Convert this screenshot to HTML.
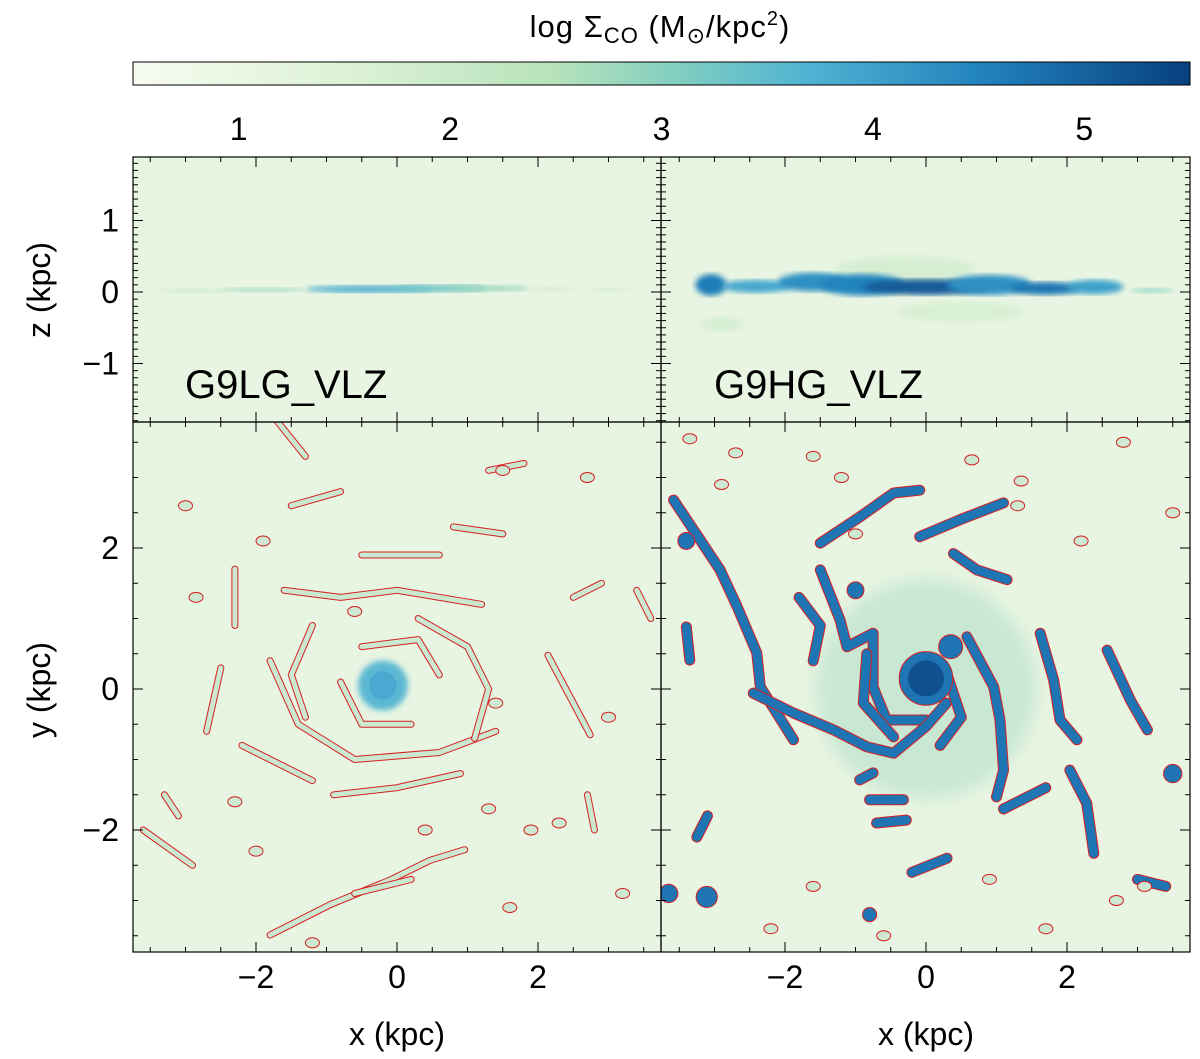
<!DOCTYPE html>
<html><head><meta charset="utf-8"><style>
html,body{margin:0;padding:0;background:#fff;}
svg{display:block;font-family:"Liberation Sans",sans-serif;}
</style></head><body>
<svg id="fig" width="1200" height="1059" viewBox="0 0 1200 1059" xmlns="http://www.w3.org/2000/svg">
<defs>
<linearGradient id="cbgrad" x1="0" x2="1" y1="0" y2="0">
<stop offset="0" stop-color="#f7fcf0"/>
<stop offset="0.2" stop-color="#ddf2d6"/>
<stop offset="0.4" stop-color="#b6e2bb"/>
<stop offset="0.52" stop-color="#7fcdc0"/>
<stop offset="0.64" stop-color="#4fb3d3"/>
<stop offset="0.8" stop-color="#2284bd"/>
<stop offset="1" stop-color="#084081"/>
</linearGradient>
<filter id="blur1"><feGaussianBlur stdDeviation="1.2"/></filter>
<filter id="blur3"><feGaussianBlur stdDeviation="3"/></filter>
<filter id="blur8"><feGaussianBlur stdDeviation="8"/></filter>
</defs>
<text x="660" y="37" font-size="31" text-anchor="middle" letter-spacing="1">log Σ<tspan font-size="22" dy="6">CO</tspan><tspan dy="-6"> (M</tspan><tspan font-size="22" dy="6">⊙</tspan><tspan dy="-6">/kpc</tspan><tspan font-size="20" dy="-12">2</tspan><tspan dy="12">)</tspan></text>
<rect x="133" y="62" width="1057" height="23" fill="url(#cbgrad)" stroke="#000" stroke-width="1"/>
<g id="cbticks"></g>
<g id="panels"></g>
</svg>
<script>
const cbTicks=[1,2,3,4,5];
const cbMin=0.5, cbMax=5.5;
const zTicks=[1,0,-1];
const yTicks=[2,0,-2];
const xTicks=[-2,0,2];
// edge-on disc data (x kpc, z kpc, half-width kpc, half-thickness kpc, level)
const edgeLG=[[-2.9,0.02,0.5,0.03,2.4],[-1.9,0.03,0.6,0.03,2.8],[-0.4,0.04,0.9,0.05,3.8],[0.6,0.05,0.7,0.05,3.3],[1.3,0.05,0.6,0.04,2.8],[2.2,0.04,0.3,0.02,2.2],[3.0,0.03,0.3,0.02,2.2]];
const edgeHG=[[-0.3,0.32,1.0,0.18,2.0],[0.5,-0.28,0.9,0.14,1.9],[-2.9,-0.45,0.3,0.1,2.0],[-3.05,0.1,0.22,0.15,4.6],[-2.4,0.08,0.5,0.09,3.9],[-1.6,0.14,0.5,0.13,4.3],[-0.9,0.1,0.6,0.15,4.5],[0,0.07,0.9,0.11,5.1],[0.9,0.1,0.6,0.14,4.3],[1.7,0.05,0.5,0.09,4.7],[2.4,0.07,0.4,0.1,4.0],[3.2,0.02,0.3,0.03,3]];
const armsHG=[
[[-3.58,2.68],[-3.30,2.26],[-2.92,1.69],[-2.68,1.17],[-2.40,0.51],[-2.35,0.03],[-1.88,-0.72]],
[[-1.50,2.07],[-0.94,2.44],[-0.46,2.78],[-0.09,2.82]],
[[-0.09,2.16],[0.48,2.40],[1.10,2.64]],
[[0.39,1.92],[0.72,1.69],[1.15,1.55]],
[[-1.50,1.69],[-1.22,0.98],[-1.12,0.60],[-0.75,0.79],[-0.75,0.03],[-0.56,-0.44],[0,-0.44]],
[[-2.45,-0.06],[-1.88,-0.34],[-1.31,-0.58],[-0.84,-0.82],[-0.46,-0.91],[0,-0.53],[0.29,-0.2]],
[[0.58,0.74],[0.96,0.03],[1.05,-0.44],[1.10,-1.15],[1.0,-1.53]],
[[-0.84,0.5],[-0.89,-0.2],[-0.46,-0.68]],
[[-0.94,-1.29],[-0.75,-1.19]],[[-0.8,-1.57],[-0.32,-1.57]],[[-0.70,-1.90],[-0.28,-1.86]],
[[1.62,0.79],[1.81,0.13],[1.90,-0.44],[2.14,-0.72]],
[[2.57,0.55],[2.90,-0.16],[3.14,-0.58]],
[[2.04,-1.15],[2.28,-1.62],[2.38,-2.33]],
[[-3.4,0.88],[-3.35,0.41]],[[-3.1,-1.8],[-3.25,-2.1]],
[[-1.8,1.3],[-1.5,0.9],[-1.6,0.4]],[[0.3,0.2],[0.5,-0.4],[0.2,-0.8]],
[[-0.2,-2.6],[0.3,-2.4]],[[1.7,-1.4],[1.1,-1.7]],[[3.0,-2.7],[3.4,-2.8]]
];
const blobsHG=[[0,0.15,0.38],[-3.11,-2.95,0.15],[-3.65,-2.9,0.13],[-0.8,-3.2,0.1],[-3.4,2.1,0.12],[3.5,-1.2,0.13],[-1.0,1.4,0.12],[0.35,0.6,0.17]];
const ringsHG=[[-3.35,3.55],[-2.7,3.35],[-2.9,2.9],[-1.6,3.3],[-1.2,3.0],[-1.0,2.2],[0.65,3.25],[1.35,2.95],[2.8,3.5],[3.5,2.5],[2.2,2.1],[1.3,2.6],[2.7,-3.0],[1.7,-3.4],[-1.6,-2.8],[-0.6,-3.5],[-2.2,-3.4],[0.9,-2.7],[3.1,-2.8]];
const armsLG=[
[[-1.6,1.4],[-0.8,1.3],[0,1.4],[1.2,1.2]],
[[-1.8,0.4],[-1.4,-0.5],[-0.6,-1.0],[0.6,-0.9],[1.4,-0.6]],
[[0.3,1.0],[1.0,0.6],[1.3,0],[1.1,-0.7]],
[[-1.2,0.9],[-1.5,0.2],[-1.3,-0.4]],
[[-0.9,-1.5],[0,-1.4],[0.9,-1.2]],
[[-2.5,0.3],[-2.7,-0.6]],[[-2.2,-0.8],[-1.2,-1.3]],
[[-1.5,2.6],[-0.8,2.8]],[[-1.3,3.3],[-1.7,3.8]],[[0.8,2.3],[1.5,2.2]],[[1.3,3.1],[1.8,3.2]],[[-0.5,1.9],[0.6,1.9]],
[[-0.5,0.6],[0.3,0.7],[0.6,0.2]],[[-0.8,0.1],[-0.5,-0.5],[0.2,-0.5]],
[[2.14,0.48],[2.74,-0.65]],[[-1.80,-3.49],[-0.95,-3.06],[-0.10,-2.71],[0.47,-2.43],[0.96,-2.28]],
[[-3.6,-2.0],[-2.9,-2.5]],[[-2.3,1.7],[-2.3,0.9]],[[-3.1,-1.8],[-3.3,-1.5]],[[2.7,-1.5],[2.8,-2.0]],[[-0.6,-2.9],[0.2,-2.7]],[[2.5,1.3],[2.9,1.5]],[[3.4,1.4],[3.6,1.0]]
];
const ringsLG=[[-2.85,1.3],[-3.0,2.6],[-1.9,2.1],[1.5,3.1],[2.7,3.0],[-0.6,1.1],[-2.3,-1.6],[1.4,-0.2],[0.4,-2.0],[1.9,-2.0],[2.3,-1.9],[3.0,-0.4],[1.3,-1.7],[-1.2,-3.6],[1.6,-3.1],[-2.0,-2.3],[3.2,-2.9]];
const svg=document.getElementById('fig');
const NS='http://www.w3.org/2000/svg';
function mk(tag,attrs,parent){const e=document.createElementNS(NS,tag);for(const k in attrs)e.setAttribute(k,attrs[k]);parent.appendChild(e);return e;}
function col(v){const s=[[0.5,[247,252,240]],[1.5,[221,242,214]],[2.5,[182,226,187]],[3.1,[127,205,192]],[3.7,[79,179,211]],[4.5,[34,132,189]],[5.5,[8,64,129]]];for(let i=1;i<s.length;i++){if(v<=s[i][0]){const t=(v-s[i-1][0])/(s[i][0]-s[i-1][0]);const a=s[i-1][1],b=s[i][1];return 'rgb('+a.map((c,j)=>Math.round(c+(b[j]-c)*t)).join(',')+')';}}return 'rgb(8,64,129)';}
const cbX=v=>133+(v-cbMin)/(cbMax-cbMin)*1057;
const cbg=document.getElementById('cbticks');
cbTicks.forEach(v=>{const t=mk('text',{x:cbX(v),y:140,'font-size':32,'text-anchor':'middle'},cbg);t.textContent=v;

});
const BG='#e8f5e2';
const pg=document.getElementById('panels');
const K=70.5;
function panel(x0,y0,w,h,cx,cy,kz,name){const g=mk('g',{},pg);


mk('rect',{x:x0,y:y0,width:w,height:h,fill:BG},g);
const cp='cp'+name;const c=mk('clipPath',{id:cp},g);mk('rect',{x:x0,y:y0,width:w,height:h},c);
const inner=mk('g',{'clip-path':'url(#'+cp+')'},g);
return {g,inner,X:v=>cx+v*K,Y:v=>cy-v*kz};}
function line(pts,P){return pts.map(p=>P.X(p[0]).toFixed(1)+','+P.Y(p[1]).toFixed(1)).join(' ');}
function edge(P,data){data.forEach(d=>{const e=mk('ellipse',{cx:P.X(d[0]),cy:P.Y(d[1]),rx:d[2]*K,ry:Math.max(2,d[3]*71.5),fill:col(d[4]),filter:'url(#blur3)',opacity:d[4]<2.5?0.6:1},P.inner);

});}
function faceon(P,arms,w,blue,blobs,rings){
arms.forEach(a=>{const l=mk('polyline',{points:line(a,P),fill:'none',stroke:'#d62020','stroke-width':w+2,'stroke-linejoin':'round','stroke-linecap':'round'},P.inner);


const l2=mk('polyline',{points:line(a,P),fill:'none',stroke:blue,'stroke-width':w,'stroke-linejoin':'round','stroke-linecap':'round'},P.inner);

});
blobs.forEach(b=>{const c=mk('circle',{cx:P.X(b[0]),cy:P.Y(b[1]),r:b[2]*K,fill:blue,stroke:'#d62020','stroke-width':1},P.inner);

});
rings.forEach(r=>{const c=mk('ellipse',{cx:P.X(r[0]),cy:P.Y(r[1]),rx:7,ry:5,fill:'#cde9d3',stroke:'#d62020','stroke-width':1},P.inner);

});}
function ticksY(P,x0,x1,ticks,minorStep,lo,hi,labels){for(let v=Math.ceil(lo/minorStep)*minorStep;v<=hi+1e-9;v+=minorStep){const y=P.Y(v);const maj=ticks.some(t=>Math.abs(t-v)<1e-6);const L=maj?10:5;mk('line',{x1:x0,x2:x0+L,y1:y,y2:y,stroke:'#000','stroke-width':1},P.g);mk('line',{x1:x1,x2:x1-L,y1:y,y2:y,stroke:'#000','stroke-width':1},P.g);}
if(labels)ticks.forEach(t=>{const tx=mk('text',{x:x0-14,y:P.Y(t)+11,'font-size':32,'text-anchor':'end'},P.g);tx.textContent=(t<0?'\u2212'+(-t):t);

});}
function ticksX(P,y0,y1,ticks,minorStep,lo,hi,labels){for(let v=Math.ceil(lo/minorStep)*minorStep;v<=hi+1e-9;v+=minorStep){const x=P.X(v);const maj=ticks.some(t=>Math.abs(t-v)<1e-6);const L=maj?10:5;mk('line',{x1:x,x2:x,y1:y0,y2:y0+L,stroke:'#000','stroke-width':1},P.g);mk('line',{x1:x,x2:x,y1:y1,y2:y1-L,stroke:'#000','stroke-width':1},P.g);}
if(labels)ticks.forEach(t=>{const tx=mk('text',{x:P.X(t),y:y1+36,'font-size':32,'text-anchor':'middle'},P.g);tx.textContent=(t<0?'\u2212'+(-t):t);

});}
const TL=panel(133,157,528,265,397,292,71.5,'edge-on-panel-g9lg');edge(TL,edgeLG);
const TR=panel(661,157,529,265,926,292,71.5,'edge-on-panel-g9hg');edge(TR,edgeHG);
const BL=panel(133,422,528,530,397,689,K,'face-on-panel-g9lg');
mk('circle',{cx:BL.X(-0.2),cy:BL.Y(0.05),r:25,fill:'#5bb8d2',filter:'url(#blur3)'},BL.inner);
faceon(BL,armsLG,5,'#cbe8d0',[],ringsLG);
mk('circle',{cx:BL.X(-0.2),cy:BL.Y(0.05),r:14,fill:'#4aa9d0'},BL.inner);
const BR=panel(661,422,529,530,926,689,K,'face-on-panel-g9hg');
mk('circle',{cx:BR.X(0),cy:BR.Y(0),r:110,fill:'#a9dcc6',opacity:0.5,filter:'url(#blur8)'},BR.inner);
faceon(BR,armsHG,9,'#1f74b4',blobsHG,ringsHG);
mk('circle',{cx:BR.X(0),cy:BR.Y(0.15),r:18,fill:'#10508f'},BR.inner);
[TL,TR].forEach(P=>{ticksY(P,P===TL?133:661,P===TL?661:1190,zTicks,0.1,-1.85,1.85,P===TL);ticksX(P,157,422,[-2,0,2],0.5,-3.5,3.5,false);});
[BL,BR].forEach(P=>{ticksY(P,P===BL?133:661,P===BL?661:1190,yTicks,0.5,-3.5,3.5,P===BL);ticksX(P,422,952,xTicks,0.5,-3.5,3.5,true);});
[[133,157,528,265],[661,157,529,265],[133,422,528,530],[661,422,529,530]].forEach(r=>{const b=mk('rect',{x:r[0],y:r[1],width:r[2],height:r[3],fill:'none',stroke:'#000','stroke-width':1.2},pg);

});
function label(x,y,txt,rot,name,fs){const t=mk('text',{x:x,y:y,'font-size':fs||32,'text-anchor':'middle',transform:rot?'rotate(-90 '+x+' '+y+')':''},pg);t.textContent=txt;

}
label(50,290,'z (kpc)',true,'z-axis-title');
label(50,690,'y (kpc)',true,'y-axis-title');
label(397,1045,'x (kpc)',false,'x-axis-title-left');
label(926,1045,'x (kpc)',false,'x-axis-title-right');
const l1=mk('text',{x:185,y:398,'font-size':40},pg);l1.textContent='G9LG_VLZ';


const l2=mk('text',{x:714,y:398,'font-size':40},pg);l2.textContent='G9HG_VLZ';


</script>
</body></html>
